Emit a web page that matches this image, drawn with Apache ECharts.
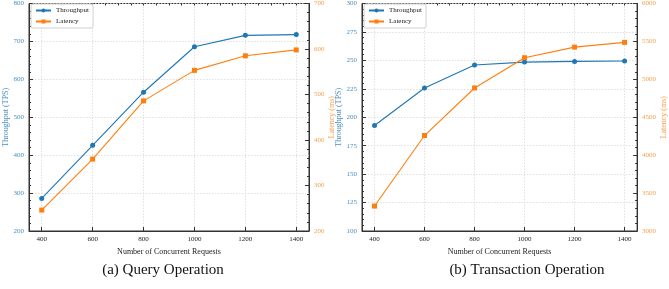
<!DOCTYPE html>
<html><head><meta charset="utf-8">
<script src="https://cdn.jsdelivr.net/npm/echarts@6/dist/echarts.min.js"></script>
<style>html,body{margin:0;padding:0;background:#fff}#c{width:669px;height:289px}</style>
</head><body><div id="c"></div>
<script>
const requests = [400, 600, 800, 1000, 1200, 1400];
const xTicks = [400, 600, 800, 1000, 1200, 1400];
const queryThroughput = [286, 426, 566, 686, 716, 718];
const queryLatency = [246, 358, 486, 553, 585, 598];
const txThroughput = [192.7, 225.7, 245.9, 248.5, 249.1, 249.4];
const txLatency = [3329, 4259, 4886, 5285, 5425, 5487];
const captions = ['(a) Query Operation', '(b) Transaction Operation'];

const BLUE = '#1f77b4', ORANGE = '#ff7f0e';
const FONT = 'Liberation Serif';
const pairs = (ys) => requests.map((x, i) => [x, ys[i]]);
const plain = (v) => String(v);

const grids = [
  {left: 29, right: 360, top: 3, bottom: 58},
  {left: 362, right: 26, top: 3, bottom: 58}
];
const yRanges = [
  {l: [200, 800, 100], r: [200, 700, 100]},
  {l: [100, 300, 25], r: [3000, 6000, 500]}
];
const nameGaps = [{l: 15, r: 16}, {l: 18, r: 22}];

const xAxis = [], yAxis = [], series = [], legend = [], title = [];
grids.forEach((g, gi) => {
  g.show = true; g.borderColor = '#333'; g.borderWidth = 1; g.backgroundColor = 'transparent';
  xAxis.push({
    type: 'value', gridIndex: gi, min: 350, max: 1450,
    axisLine: {show: true, onZero: false, lineStyle: {color: '#333', width: 1}},
    axisTick: {show: true, inside: true, length: 4, customValues: xTicks, lineStyle: {color: '#333'}},
    axisLabel: {customValues: xTicks, formatter: plain, color: '#222', fontFamily: FONT, fontSize: 7, margin: 5},
    splitLine: {show: true, lineStyle: {color: '#d8d8d8', type: [1.5, 1.5], width: 0.8}},
    name: 'Number of Concurrent Requests', nameLocation: 'middle', nameGap: 14,
    nameTextStyle: {color: '#222', fontFamily: FONT, fontSize: 8}
  });
  xAxis.push({
    type: 'value', gridIndex: gi, min: 350, max: 1450, interval: 50,
    axisLine: {show: false}, axisLabel: {show: false}, splitLine: {show: false},
    axisTick: {show: true, inside: true, length: 2, lineStyle: {color: '#333'}}
  });
  const yr = yRanges[gi];
  yAxis.push({
    type: 'value', gridIndex: gi, position: 'left', min: yr.l[0], max: yr.l[1], interval: yr.l[2],
    axisLine: {show: true, lineStyle: {color: '#333'}},
    axisTick: {show: true, inside: true, length: 4, lineStyle: {color: '#333'}},
    minorTick: {show: true, splitNumber: 5, length: 2, lineStyle: {color: '#333'}},
    axisLabel: {formatter: plain, color: '#4a8fc2', fontFamily: FONT, fontSize: 7, margin: 5},
    splitLine: {show: true, lineStyle: {color: '#d8d8d8', type: [1.5, 1.5], width: 0.8}},
    name: 'Throughput (TPS)', nameLocation: 'middle', nameGap: nameGaps[gi].l, nameRotate: 90,
    nameTextStyle: {color: '#4a8fc2', fontFamily: FONT, fontSize: 8}
  });
  yAxis.push({
    type: 'value', gridIndex: gi, position: 'right', min: yr.r[0], max: yr.r[1], interval: yr.r[2],
    axisLine: {show: true, lineStyle: {color: '#333'}},
    axisTick: {show: true, inside: true, length: 4, lineStyle: {color: '#333'}},
    minorTick: {show: true, splitNumber: 5, length: 2, lineStyle: {color: '#333'}},
    axisLabel: {formatter: plain, color: '#f5a04e', fontFamily: FONT, fontSize: 7, margin: 5},
    splitLine: {show: false},
    name: 'Latency (ms)', nameLocation: 'middle', nameGap: nameGaps[gi].r, nameRotate: 90,
    nameTextStyle: {color: '#f5a04e', fontFamily: FONT, fontSize: 8}
  });
  const thr = gi === 0 ? queryThroughput : txThroughput;
  const lat = gi === 0 ? queryLatency : txLatency;
  series.push({
    name: 'Throughput', type: 'line', xAxisIndex: gi * 2, yAxisIndex: gi * 2,
    data: pairs(thr), symbol: 'circle', symbolSize: 5, showSymbol: true,
    lineStyle: {color: BLUE, width: 1.1}, itemStyle: {color: BLUE}, z: 3
  });
  series.push({
    name: 'Latency', type: 'line', xAxisIndex: gi * 2, yAxisIndex: gi * 2 + 1,
    data: pairs(lat), symbol: 'rect', symbolSize: 5, showSymbol: true,
    lineStyle: {color: ORANGE, width: 1.1}, itemStyle: {color: ORANGE}, z: 3
  });
  legend.push({
    data: ['Throughput', 'Latency'], orient: 'vertical',
    left: g.left + 2, top: 4, itemWidth: 15, itemHeight: 5, itemGap: 4, itemStyle: {},
    padding: [3, 4, 3, 4], borderColor: '#d0d0d0', borderWidth: 1, borderRadius: 2,
    backgroundColor: '#fff',
    textStyle: {fontFamily: FONT, fontSize: 7, color: '#222'}
  });
  title.push({
    text: captions[gi], left: gi === 0 ? 158 : 522, top: 258, textAlign: 'center',
    textStyle: {fontFamily: FONT, fontSize: 15, fontWeight: 'normal', color: '#111'}
  });
});

const chart = echarts.init(document.getElementById('c'), null, {renderer: 'canvas'});
chart.setOption({animation: false, grid: grids, xAxis, yAxis, series, legend, title});
</script></body></html>
